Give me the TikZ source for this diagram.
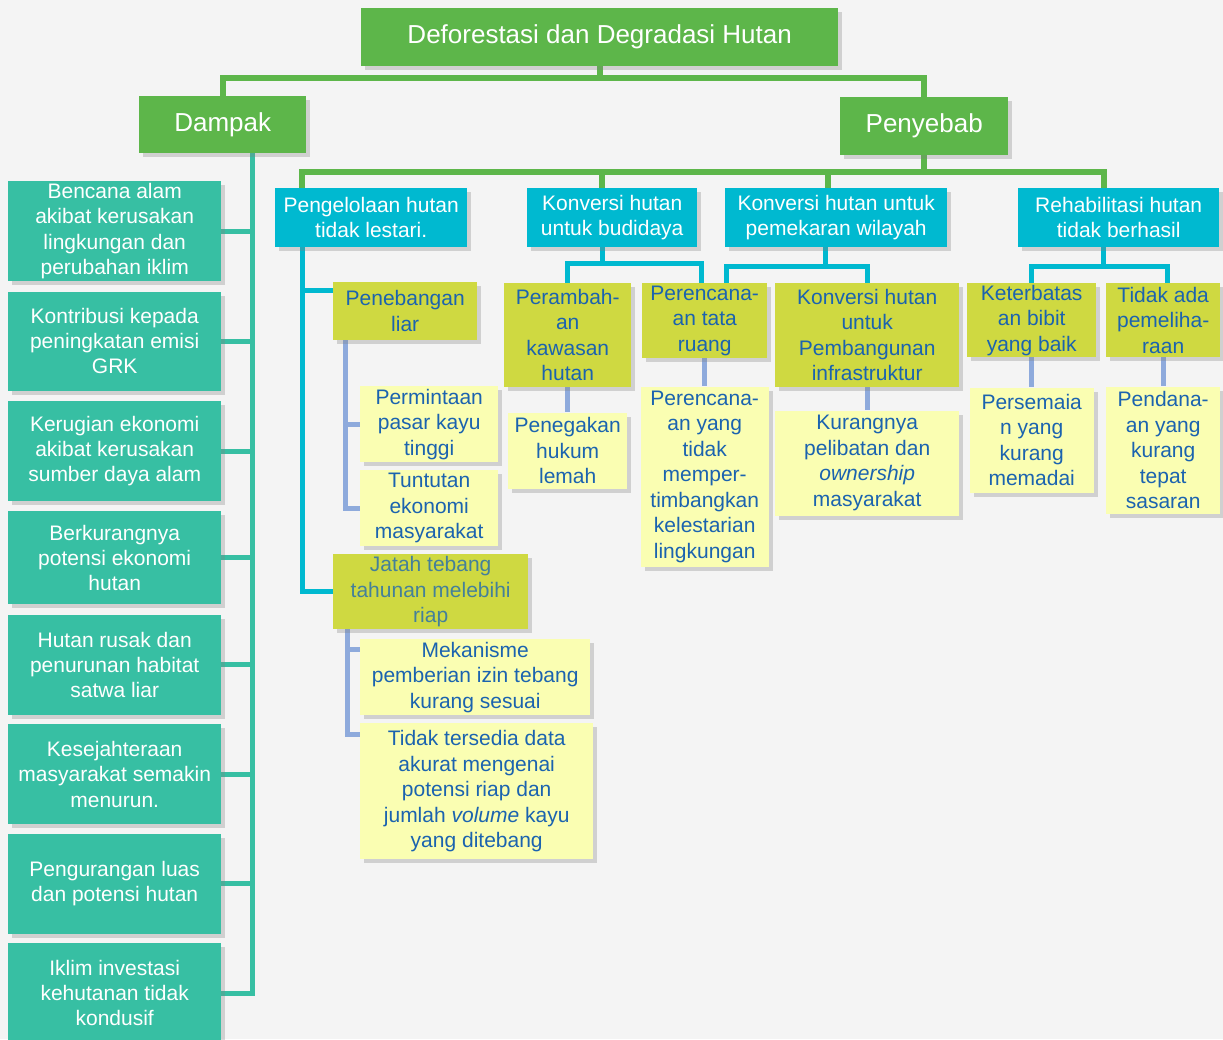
\documentclass[tikz,border=0pt]{standalone}
\usepackage{fontspec}
\setmainfont{Liberation Sans}
\usetikzlibrary{positioning,shadows,backgrounds}
\definecolor{leafgreen}{HTML}{5DB64A}
\definecolor{seateal}{HTML}{37BFA3}
\definecolor{skycyan}{HTML}{00B9D0}
\definecolor{limeyellow}{HTML}{CFD941}
\definecolor{paleyellow}{HTML}{FAFEB2}
\definecolor{periwinkle}{HTML}{8EAADC}
\definecolor{inkblue}{HTML}{1B63AF}
\definecolor{slateblue}{HTML}{44809A}
\definecolor{paper}{HTML}{F4F4F4}
\tikzset{
  box/.style={rectangle, anchor=north west, align=center, inner sep=1pt,
    drop shadow={shadow xshift=4pt, shadow yshift=-4pt, opacity=0.3},
    font=\fontsize{21}{25.5}\selectfont},
  headbox/.style={box, fill=leafgreen, text=white, font=\fontsize{26}{30}\selectfont},
  impact/.style={box, fill=seateal, text=white, inner sep=0pt, minimum width=213pt, minimum height=100pt,
    font=\fontsize{21}{25.3}\selectfont},
  cause/.style={box, fill=skycyan, text=white, minimum height=59pt},
  factor/.style={box, fill=limeyellow, text=inkblue},
  detail/.style={box, fill=paleyellow, text=inkblue},
  greenline/.style={draw=leafgreen, line width=6pt},
  tealline/.style={draw=seateal, line width=5pt},
  cyanline/.style={draw=skycyan, line width=5pt},
  periline/.style={draw=periwinkle, line width=5pt},
}
\begin{document}
\begin{tikzpicture}[x=1pt, y=1pt]
  \useasboundingbox (0,0) rectangle (1223,-1039);

  % judul dan dua cabang utama
  \node[headbox, minimum width=477pt, minimum height=58pt] (title) at (361,-8)
    {Deforestasi dan Degradasi Hutan};
  \node[headbox, minimum width=167pt, minimum height=57pt] (dampak) at (139,-96) {Dampak};
  \node[headbox, minimum width=168pt, minimum height=58pt] (penyebab) at (840,-97) {Penyebab};

  % dampak
  \node[impact] (impact1) at (8,-181)
    {Bencana alam\\akibat kerusakan\\lingkungan dan\\perubahan iklim};
  \node[impact, minimum height=99pt, below=10pt of impact1] (impact2)
    {Kontribusi kepada\\peningkatan emisi\\GRK};
  \node[impact, below=10pt of impact2] (impact3)
    {Kerugian ekonomi\\akibat kerusakan\\sumber daya alam};
  \node[impact, minimum height=93pt, below=10pt of impact3] (impact4)
    {Berkurangnya\\potensi ekonomi\\hutan};
  \node[impact, below=10pt of impact4] (impact5)
    {Hutan rusak dan\\penurunan habitat\\satwa liar};
  \node[impact, below=9pt of impact5] (impact6)
    {Kesejahteraan\\masyarakat semakin\\menurun.};
  \node[impact, below=9pt of impact6] (impact7)
    {Pengurangan luas\\dan potensi hutan};
  \node[impact, below=9pt of impact7] (impact8)
    {Iklim investasi\\kehutanan tidak\\kondusif};

  % penyebab
  \node[cause, minimum width=192pt] (pengelolaan) at (275,-188)
    {Pengelolaan hutan\\tidak lestari.};
  \node[cause, minimum width=170pt] (budidaya) at (527,-188)
    {Konversi hutan\\untuk budidaya};
  \node[cause, minimum width=222pt] (pemekaran) at (725,-188)
    {Konversi hutan untuk\\pemekaran wilayah};
  \node[cause, minimum width=201pt] (rehabilitasi) at (1018,-188)
    {Rehabilitasi hutan\\tidak berhasil};

  \node[factor, minimum width=144pt, minimum height=58pt] (penebangan) at (333,-282)
    {Penebangan\\liar};
  \node[factor, text=slateblue, minimum width=195pt, minimum height=75pt] (jatah) at (333,-554)
    {Jatah tebang\\tahunan melebihi\\riap};
  \node[factor, minimum width=127pt, minimum height=104pt] (perambahan) at (504,-283)
    {Perambah-\\an\\kawasan\\hutan};
  \node[factor, minimum width=125pt, minimum height=75pt] (tataruang) at (642,-283)
    {Perencana-\\an tata\\ruang};
  \node[factor, minimum width=184pt, minimum height=104pt] (infrastruktur) at (775,-283)
    {Konversi hutan\\untuk\\Pembangunan\\infrastruktur};
  \node[factor, minimum width=129pt, minimum height=74pt] (keterbatasan) at (967,-283)
    {Keterbatas\\an bibit\\yang baik};
  \node[factor, minimum width=114pt, minimum height=74pt] (pemeliharaan) at (1106,-283)
    {Tidak ada\\pemeliha-\\raan};

  \node[detail, minimum width=138pt, minimum height=76pt] (permintaan) at (360,-386)
    {Permintaan\\pasar kayu\\tinggi};
  \node[detail, minimum width=138pt, minimum height=76pt] (tuntutan) at (360,-470)
    {Tuntutan\\ekonomi\\masyarakat};
  \node[detail, minimum width=230pt, minimum height=76pt] (mekanisme) at (360,-639)
    {Mekanisme\\pemberian izin tebang\\kurang sesuai};
  \node[detail, minimum width=233pt, minimum height=136pt] (ketersediaan) at (360,-723)
    {Tidak tersedia data\\akurat mengenai\\potensi riap dan\\jumlah \textit{volume} kayu\\yang ditebang};
  \node[detail, minimum width=119pt, minimum height=76pt, below=25pt of perambahan] (penegakan)
    {Penegakan\\hukum\\lemah};
  \node[detail, minimum width=128pt, minimum height=180pt, below=28pt of tataruang] (pertimbangan)
    {Perencana-\\an yang\\tidak\\memper-\\timbangkan\\kelestarian\\lingkungan};
  \node[detail, minimum width=184pt, minimum height=105pt, below=23pt of infrastruktur] (pelibatan)
    {Kurangnya\\pelibatan dan\\\textit{ownership}\\masyarakat};
  \node[detail, minimum width=124pt, minimum height=105pt, below=30pt of keterbatasan] (persemaian)
    {Persemaia\\n yang\\kurang\\memadai};
  \node[detail, minimum width=114pt, minimum height=127pt, below=29pt of pemeliharaan] (pendanaan)
    {Pendana-\\an yang\\kurang\\tepat\\sasaran};

  \coordinate (topbar) at (0,-78);
  \coordinate (causebar) at (0,-172);
  \coordinate (farmbar) at (0,-263);
  \coordinate (regionbar) at (0,-266);
  \coordinate (spine) at ([xshift=30pt]dampak.south);

  \begin{scope}[on background layer]
    \fill[paper] (0,0) rectangle (1223,-1039);
    % garis hijau
    \draw[greenline] (title.south) -- (title.south |- topbar);
    \draw[greenline] (dampak.north) |- (penyebab.north |- topbar) -- (penyebab.north);
    \draw[greenline] (penyebab.south) -- (penyebab.south |- causebar);
    \draw[greenline] ([xshift=27pt]pengelolaan.north west) |- ([xshift=-15pt]rehabilitasi.north |- causebar)
      -- ([xshift=-15pt]rehabilitasi.north);
    \draw[greenline] ([xshift=-10pt]budidaya.north) -- ([xshift=-10pt]budidaya.north |- causebar);
    \draw[greenline] ([xshift=-8pt]pemekaran.north) -- ([xshift=-8pt]pemekaran.north |- causebar);
    % garis dampak
    \draw[tealline] (spine) |- (impact8.east);
    \foreach \i in {1,...,7}
      \draw[tealline] (impact\i.east) -- (impact\i.east -| spine);
    % garis penyebab
    \draw[cyanline] ([xshift=27pt]pengelolaan.south west) |- (jatah.west);
    \draw[cyanline] ([xshift=27pt]pengelolaan.south west) |- ([yshift=-8pt]penebangan.north west);
    \draw[cyanline] ([xshift=-10pt]budidaya.south) -- ([xshift=-10pt]budidaya.south |- farmbar);
    \draw[cyanline] (perambahan.north) |- ([xshift=-3pt]tataruang.north |- farmbar)
      -- ([xshift=-3pt]tataruang.north);
    \draw[cyanline] ([xshift=-11pt]pemekaran.south) -- ([xshift=-11pt]pemekaran.south |- regionbar);
    \draw[cyanline] ([xshift=22pt]tataruang.north) |- (infrastruktur.north |- regionbar)
      -- (infrastruktur.north);
    \draw[cyanline] ([xshift=-15pt]rehabilitasi.south) -- ([xshift=-15pt]rehabilitasi.south |- regionbar);
    \draw[cyanline] (keterbatasan.north) |- ([xshift=4pt]pemeliharaan.north |- regionbar)
      -- ([xshift=4pt]pemeliharaan.north);
    % garis rincian
    \draw[periline] ([xshift=12pt]penebangan.south west) |- (permintaan.west);
    \draw[periline] ([xshift=12pt]penebangan.south west) |- (tuntutan.west);
    \draw[periline] ([xshift=14pt]jatah.south west) |- ([yshift=-10pt]mekanisme.north west);
    \draw[periline] ([xshift=14pt]jatah.south west) |- ([yshift=-11pt]ketersediaan.north west);
    \draw[periline] (perambahan.south) -- (penegakan.north);
    \draw[periline] (tataruang.south) -- (pertimbangan.north);
    \draw[periline] (infrastruktur.south) -- (pelibatan.north);
    \draw[periline] (keterbatasan.south) -- (persemaian.north);
    \draw[periline] (pemeliharaan.south) -- (pendanaan.north);
  \end{scope}
\end{tikzpicture}
\end{document}
